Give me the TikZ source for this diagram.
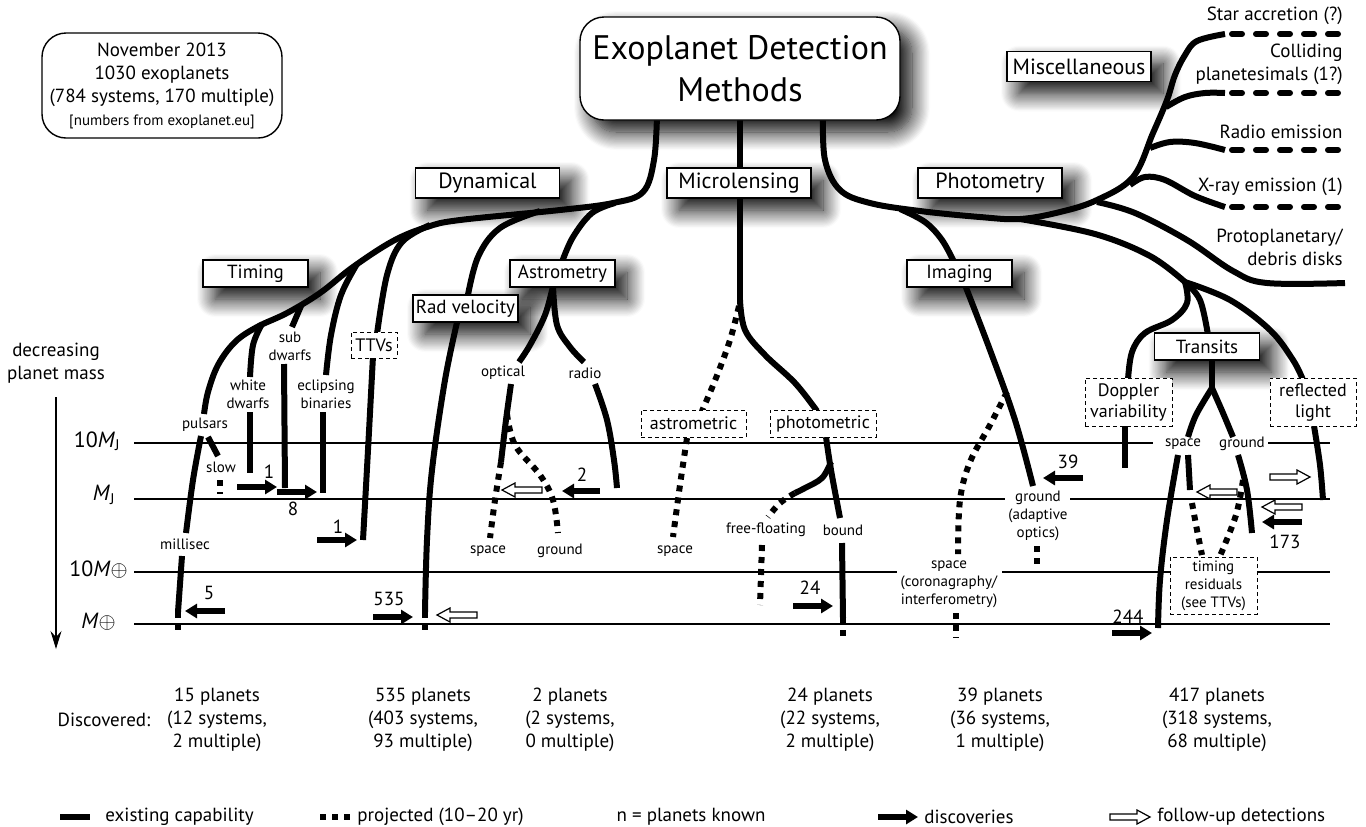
\documentclass[tikz,border=0pt]{standalone}
\usepackage{fontspec}
\setmainfont{PT Sans}
\usetikzlibrary{arrows.meta, backgrounds, shadows.blur}

\tikzset{
  branch/.style={line width=3pt},
  proj/.style={line width=3pt, dash pattern=on 3pt off 3pt},
  spec/.style={line width=3pt, line cap=round, dash pattern=on 5pt off 7pt},
  massline/.style={line width=0.7pt},
  methodbox/.style={draw, line width=0.7pt, fill=white, inner sep=0pt,
    font=\fontsize{11}{13}\selectfont, minimum width=72pt, minimum height=15pt,
    blur shadow={shadow xshift=6pt, shadow yshift=-6pt, shadow blur radius=9pt, shadow blur steps=16, shadow opacity=100}},
  subbox/.style={methodbox, font=\fontsize{9.5}{11}\selectfont, minimum width=52.5pt, minimum height=13.5pt},
  techbox/.style={draw, line width=0.5pt, dash pattern=on 2pt off 1.5pt, fill=white,
    align=center, inner sep=0pt, font=\fontsize{9}{10.5}\selectfont},
  tag/.style={font=\fontsize{7.5}{9}\selectfont, align=center, inner sep=1pt},
  count/.style={font=\fontsize{9.5}{11.5}\selectfont, align=center, inner sep=1pt},
  massmark/.style={anchor=east, font=\fontsize{11}{13}\selectfont, inner sep=0pt},
  disc/.style={line width=3pt, -{Triangle[length=6pt, width=7pt]}},
  followup/.pic={\draw[line width=0.6pt, fill=white] (0,-3) -- (27,-3) -- (27,-7) -- (40,0) -- (27,7) -- (27,3) -- (0,3) -- cycle;},
}

\begin{document}
\begin{tikzpicture}[x=0.5pt, y=-0.5pt]
\useasboundingbox (0,0) rectangle (1366,826);

\node[methodbox, rounded corners=12pt, minimum width=160pt, minimum height=51.5pt,
  font=\fontsize{17}{21}\selectfont, align=center] (title) at (740,68.5) {Exoplanet Detection\\Methods};
\node[draw, line width=0.7pt, rounded corners=12pt, minimum width=120pt, minimum height=52.5pt,
  align=center, font=\fontsize{9.5}{11.5}\selectfont] (info) at (162,85.5)
  {November 2013\\1030 exoplanets\\(784 systems, 170 multiple)\\{\fontsize{7.5}{11}\selectfont [numbers from exoplanet.eu]}};

\node[methodbox] (dyn) at (487.5,183) {Dynamical};
\node[methodbox] (micro) at (739,183) {Microlensing};
\node[methodbox] (photo) at (990,183) {Photometry};
\node[methodbox] (misc) at (1079,66.5) {Miscellaneous};
\node[subbox] (timing) at (255.5,273.5) {Timing};
\node[subbox] (astro) at (562.5,273.5) {Astrometry};
\node[subbox] (radvel) at (465.5,308.5) {Rad velocity};
\node[subbox] (imaging) at (959.5,273.5) {Imaging};
\node[subbox] (transits) at (1207,346.5) {Transits};

\node[techbox, minimum width=23pt, minimum height=13pt] (ttv) at (374,345) {TTVs};
\node[techbox, minimum width=52.5pt, minimum height=13.5pt] (astmet) at (693.5,423.5) {astrometric};
\node[techbox, minimum width=53pt, minimum height=13.5pt] (phomet) at (823,423.5) {photometric};
\node[techbox, minimum width=43.5pt, minimum height=24pt] (doppler) at (1128.5,402) {Doppler\\variability};
\node[techbox, minimum width=43pt, minimum height=24pt] (refl) at (1313,402) {reflected\\light};
\node[techbox, minimum width=43.5pt, minimum height=28.5pt, font=\fontsize{7.5}{9}\selectfont] (timres) at (1213.5,585.5) {timing\\residuals\\(see TTVs)};

\node[tag] (pulsars) at (205,425) {pulsars};
\node[tag] (slow) at (221,467) {slow};
\node[tag] (msec) at (185,544) {millisec};
\node[tag] (wd) at (248,394) {white\\dwarfs};
\node[tag] (sd) at (290,346) {sub\\dwarfs};
\node[tag] (eb) at (326,394) {eclipsing\\binaries};
\node[tag] (optical) at (503,373) {optical};
\node[tag] (radio) at (585,373) {radio};
\node[tag] (aspace) at (488,551) {space};
\node[tag] (aground) at (560,551) {ground};
\node[tag] (mspace) at (675,551) {space};
\node[tag] (free) at (766,530) {free-floating};
\node[tag] (bound) at (843,530) {bound};
\node[tag] (iground) at (1038,516) {ground\\(adaptive\\optics)};
\node[tag] (ispace) at (949,584) {space\\(coronagraphy/\\interferometry)};
\node[tag] (tspace) at (1183,444) {space};
\node[tag] (tground) at (1242,444) {ground};

\node[count, anchor=east, align=right] (star) at (1345,16) {Star accretion (?)};
\node[count, anchor=east, align=right] (coll) at (1345,64.5) {Colliding\\planetesimals (1?)};
\node[count, anchor=east, align=right] (radioem) at (1345,132) {Radio emission};
\node[count, anchor=east, align=right] (xray) at (1345,187) {X-ray emission (1)};
\node[count, anchor=east, align=right] (disks) at (1345,247.5) {Protoplanetary/\\debris disks};

\node[massmark] (mj10) at (121,441) {10\textit{M}\textsubscript{J}};
\node[massmark] (mj) at (116,495) {\textit{M}\textsubscript{J}};
\node[massmark] (me10) at (128,570) {10\textit{M}$\oplus$};
\node[massmark] (me) at (116,622) {\textit{M}$\oplus$};
\node[count] (decr) at (56,363) {decreasing\\planet mass};
\draw[line width=0.6pt, -{Stealth[length=9pt, width=5.5pt, inset=3pt]}] (56,397) -- (56,649);

\begin{scope}[on background layer]
\draw[massline] (134,443) -- (1153,443) (1268,443) -- (1330,443);
\draw[massline] (134,499) -- (1005,499) (1070,499) -- (1330,499);
\draw[massline] (134,572) -- (897,572) (1002,572) -- (1330,572);
\draw[massline] (134,624) -- (1330,624);

\draw[branch] plot[smooth, tension=0.6] coordinates {(657,115) (654,160) (643,192) (613,203) (560,210) (460,220) (427,227) (393,241) (353,267) (320,293) (287,313) (257,327) (235,342) (218,365) (208,392) (204,414)};
\draw[branch] plot[smooth, tension=0.6] coordinates {(615,203) (592,213) (573,237) (562,262)};
\draw[branch] plot[smooth, tension=0.6] coordinates {(540,211) (500,228) (478,257) (467,300)};
\draw[branch] plot[smooth, tension=0.6] coordinates {(458,318) (445,380) (432,470) (427,540) (425,612)};
\draw[proj] (425,612) -- (425,634);
\draw[branch] plot[smooth, tension=0.6] coordinates {(430,225) (402,242) (387,275) (377,334)};
\draw[branch] plot[smooth, tension=0.6] coordinates {(373,356) (368,450) (363,540)};
\draw[branch] plot[smooth, tension=0.6] coordinates {(357,264) (341,295) (331,335) (326,375)};
\draw[branch] (323,412) -- (323,493);
\draw[branch] (301,306) -- (292,327);
\draw[branch] (284,364) -- (285,488);
\draw[branch] plot[smooth, tension=0.6] coordinates {(262,324) (253,345) (250,377)};
\draw[branch] (250,412) -- (250,473);
\draw[branch] plot[smooth, tension=0.6] coordinates {(201,436) (193,480) (186,533)};
\draw[branch] (208,437) -- (218,456);
\draw[proj] (220,480) -- (220,494);
\draw[branch] (182,556) -- (178,612);
\draw[proj] (178,612) -- (178,634);

\draw[branch] plot[smooth, tension=0.6] coordinates {(553,286) (545,315) (530,345) (519,362)};
\draw[branch] plot[smooth, tension=0.6] coordinates {(511,384) (506,420) (501,462)};
\draw[proj] plot[smooth, tension=0.6] coordinates {(501,462) (495,500) (490,538)};
\draw[proj] plot[smooth, tension=0.6] coordinates {(507,414) (515,445) (540,475) (553,500) (558,533)};
\draw[branch] plot[smooth, tension=0.6] coordinates {(553,286) (557,325) (570,347) (584,362)};
\draw[branch] plot[smooth, tension=0.6] coordinates {(595,384) (607,420) (614,460) (617,488)};

\draw[branch] (740,115) -- (740,170) (740,196) -- (740,304);
\draw[proj] plot[smooth, tension=0.6] coordinates {(739,306) (730,340) (716,378) (702,411)};
\draw[branch] plot[smooth, tension=0.6] coordinates {(740,300) (745,330) (765,355) (795,383) (817,411)};
\draw[proj] plot[smooth, tension=0.6] coordinates {(687,438) (680,485) (673,537)};
\draw[branch] plot[smooth, tension=0.6] coordinates {(826,437) (831,470) (840,518)};
\draw[branch] plot[smooth, tension=0.6] coordinates {(831,462) (822,478) (805,488) (795,493)};
\draw[proj] plot[smooth, tension=0.6] coordinates {(795,493) (780,503) (768,517)};
\draw[branch] (842,543) -- (843,618);
\draw[proj] (843,618) -- (843,640);
\draw[proj] (762,545) -- (760,605);

\draw[branch] plot[smooth, tension=0.6] coordinates {(823,115) (825,160) (840,190) (870,203) (920,211) (980,217) (1020,219) (1060,212) (1097,200) (1133,177) (1153,133) (1167,100) (1175,75) (1185,55) (1197,41) (1225,34)};
\draw[spec] (1232,34) -- (1343,34);
\draw[branch] plot[smooth, tension=0.6] coordinates {(1166,107) (1185,97) (1205,93) (1225,93)};
\draw[spec] (1232,93) -- (1343,93);
\draw[branch] plot[smooth, tension=0.6] coordinates {(1150,148) (1170,142) (1195,143) (1225,150)};
\draw[spec] (1232,150) -- (1343,150);
\draw[branch] plot[smooth, tension=0.6] coordinates {(1130,185) (1145,177) (1165,180) (1195,196) (1225,207)};
\draw[spec] (1232,207) -- (1343,207);
\draw[branch] plot[smooth, tension=0.6] coordinates {(1097,202) (1135,213) (1187,240) (1233,271) (1267,283) (1345,283)};

\draw[branch] plot[smooth, tension=0.6] coordinates {(900,209) (925,222) (942,240) (954,262)};
\draw[branch] plot[smooth, tension=0.6] coordinates {(965,285) (990,350) (1015,420) (1033,486)};
\draw[proj] plot[smooth, tension=0.6] coordinates {(1007,392) (990,425) (970,462) (960,500) (958,554)};
\draw[proj] (956,613) -- (956,638);
\draw[proj] (1037,546) -- (1037,565);

\draw[branch] plot[smooth, tension=0.6] coordinates {(1020,219) (1095,234) (1150,256) (1185,282)};
\draw[branch] plot[smooth, tension=0.6] coordinates {(1185,282) (1187,303) (1172,320) (1145,333) (1132,352) (1128,380)};
\draw[branch] (1125,426) -- (1125,468);
\draw[branch] plot[smooth, tension=0.6] coordinates {(1185,282) (1200,300) (1208,335)};
\draw[branch] (1212,358) -- (1212,390);
\draw[branch] plot[smooth, tension=0.6] coordinates {(1212,388) (1196,415) (1188,437)};
\draw[branch] plot[smooth, tension=0.6] coordinates {(1212,388) (1223,413) (1233,437)};
\draw[branch] plot[smooth, tension=0.6] coordinates {(1185,282) (1230,300) (1270,330) (1293,360) (1303,380)};
\draw[branch] plot[smooth, tension=0.6] coordinates {(1314,426) (1320,465) (1323,500)};
\draw[branch] plot[smooth, tension=0.6] coordinates {(1178,455) (1167,520) (1160,580) (1158,628)};
\draw[branch] (1188,455) -- (1190,490);
\draw[proj] plot[smooth, tension=0.6] coordinates {(1192,503) (1197,530) (1202,555)};
\draw[branch] plot[smooth, tension=0.6] coordinates {(1238,455) (1247,490) (1252,533)};
\draw[proj] plot[smooth, tension=0.6] coordinates {(1243,480) (1236,515) (1220,556)};
\end{scope}

\draw[disc] (225,611) -- (185,611);
\node[count] (n5) at (209,593) {5};
\draw[disc] (237,487) -- (277,487);
\node[count] (n1a) at (269,472) {1};
\draw[disc] (277,492) -- (317,492);
\node[count] (n8) at (293,509) {8};
\draw[disc] (317,540) -- (357,540);
\node[count] (n1b) at (338,527) {1};
\draw[disc] (373,617) -- (413,617);
\node[count] (n535) at (389,599) {535};
\pic[rotate=180] at (477,615) {followup};
\pic[rotate=180] at (542,490) {followup};
\draw[disc] (600,491) -- (562,491);
\node[count] (n2) at (582,475) {2};
\draw[disc] (793,606) -- (833,606);
\node[count] (n24) at (810,588) {24};
\draw[disc] (1083,478) -- (1043,478);
\node[count] (n39) at (1068,462) {39};
\pic[rotate=180] at (1237,492) {followup};
\pic at (1270,477) {followup};
\pic[rotate=180] at (1302,507) {followup};
\draw[disc] (1302,522) -- (1262,522);
\node[count] (n173) at (1285,542) {173};
\draw[disc] (1112,633) -- (1152,633);
\node[count] (n244) at (1128,617) {244};

\node[count] (disclabel) at (104,720) {Discovered:};
\node[count] (dtiming) at (217,720) {15 planets\\(12 systems,\\2 multiple)};
\node[count] (drv) at (423,720) {535 planets\\(403 systems,\\93 multiple)};
\node[count] (dast) at (570,720) {2 planets\\(2 systems,\\0 multiple)};
\node[count] (dmicro) at (830,720) {24 planets\\(22 systems,\\2 multiple)};
\node[count] (dimg) at (1000,720) {39 planets\\(36 systems,\\1 multiple)};
\node[count] (dtr) at (1217,720) {417 planets\\(318 systems,\\68 multiple)};

\draw[branch] (60,817) -- (90,817);
\node[count, anchor=west] (lexist) at (103,817) {existing capability};
\draw[proj] (320,817) -- (352,817);
\node[count, anchor=west] (lproj) at (355,817) {projected (10--20 yr)};
\node[count] (lknown) at (691,817) {n = planets known};
\draw[disc] (878,817) -- (918,817);
\node[count, anchor=west] (ldisc) at (922,817) {discoveries};
\pic at (1110,817) {followup};
\node[count, anchor=west] (lfollow) at (1155,817) {follow-up detections};
\end{tikzpicture}
\end{document}
